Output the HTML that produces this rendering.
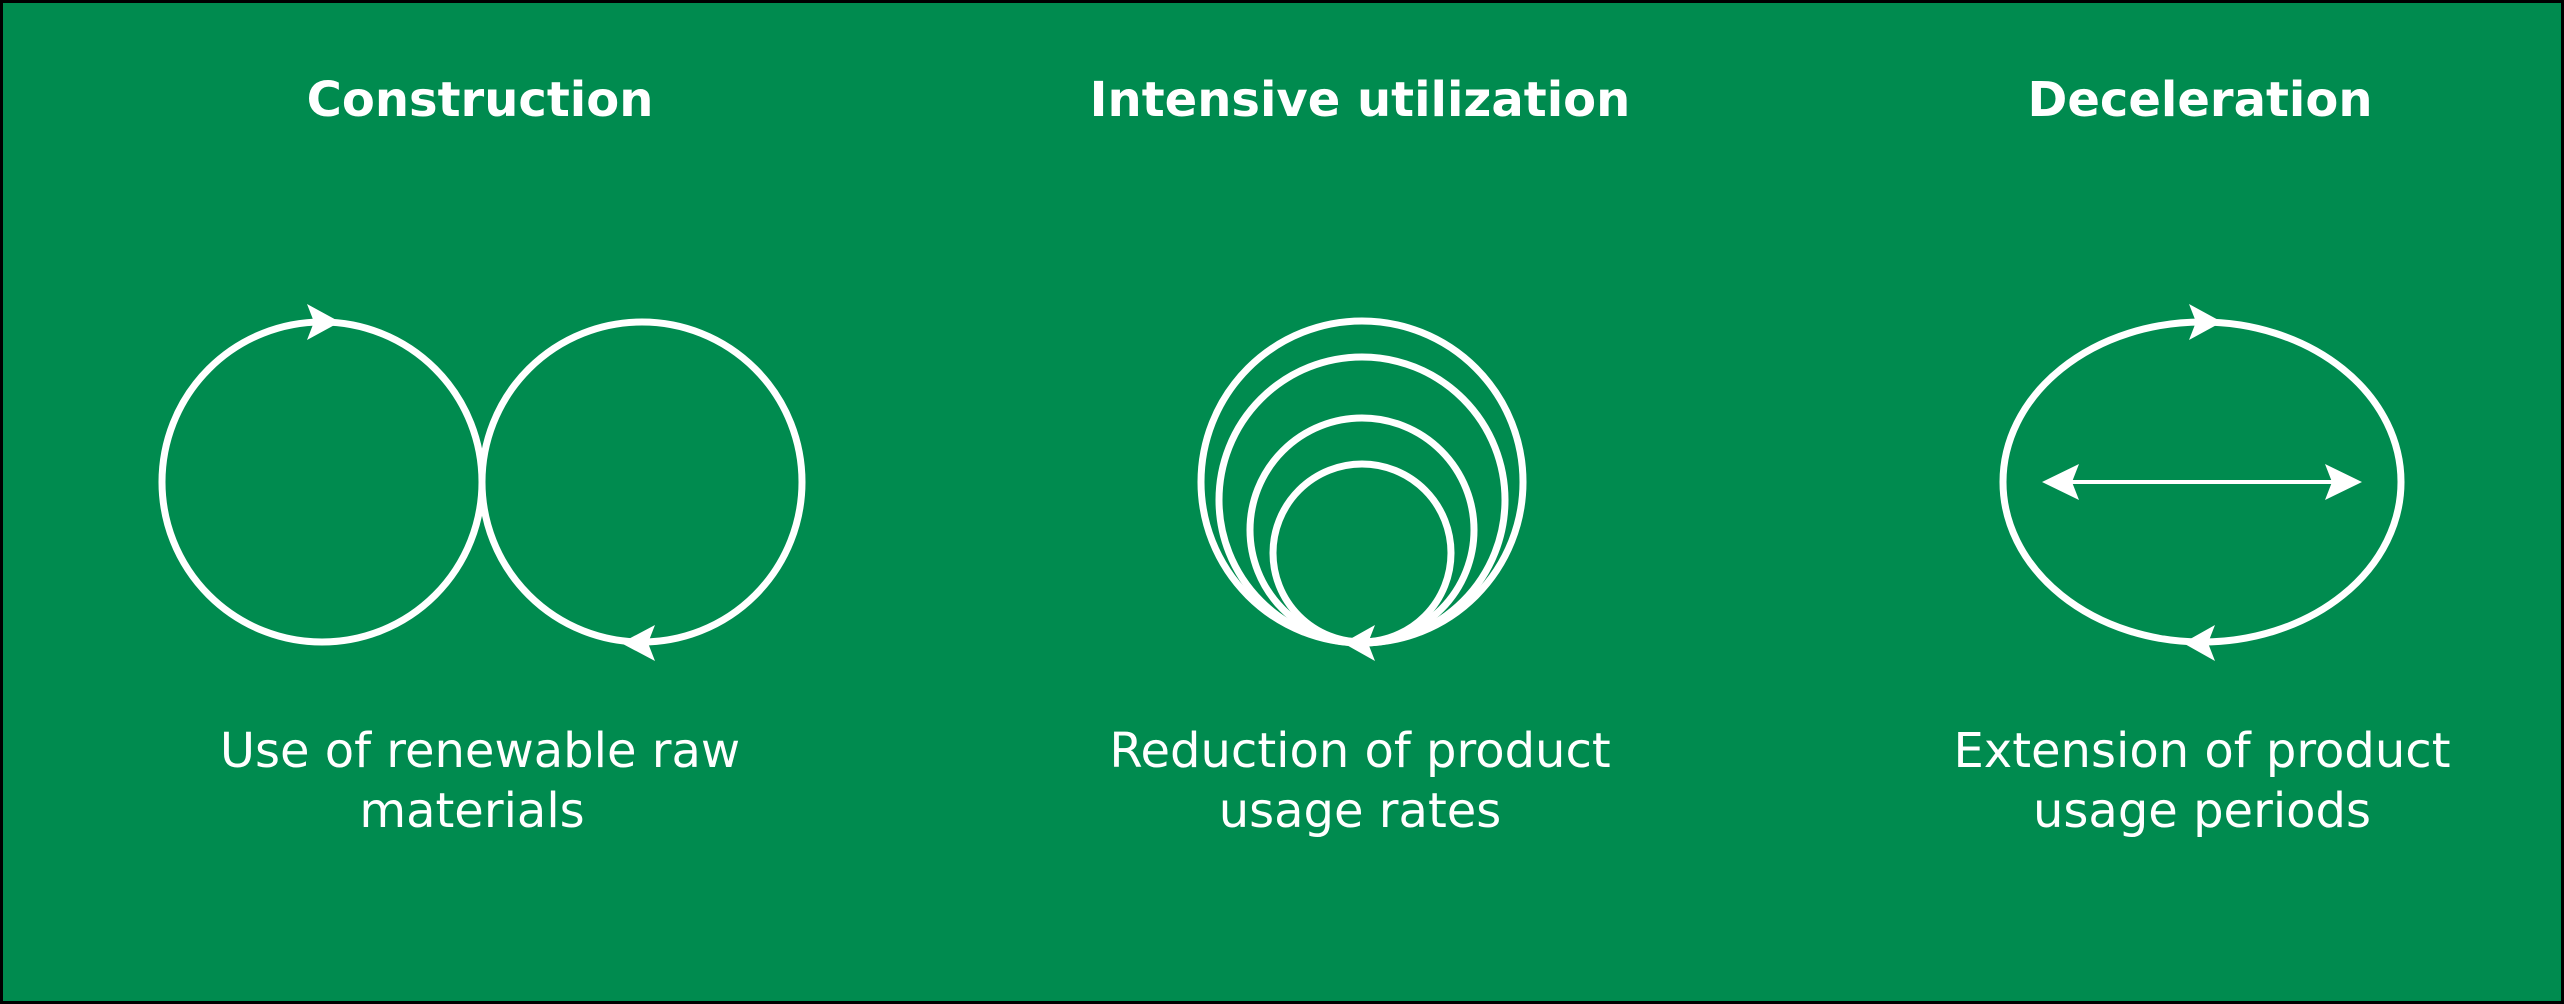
<!DOCTYPE html>
<html><head><meta charset="utf-8"><style>
html,body{margin:0;padding:0;width:2564px;height:1004px;overflow:hidden;background:#008B4F}
svg{display:block}
text{font-family:"DejaVu Sans","Liberation Sans",sans-serif;fill:#fff}
</style></head><body>
<svg width="2564" height="1004" viewBox="0 0 2564 1004">
<rect x="1.5" y="1.5" width="2561" height="1001" fill="#008B4F" stroke="#000" stroke-width="3"/>
<g text-anchor="middle">
<text x="480" y="116" font-size="48" font-weight="bold">Construction</text>
<text x="1360" y="116" font-size="48" font-weight="bold">Intensive utilization</text>
<text x="2200" y="116" font-size="48" font-weight="bold">Deceleration</text>
<text x="480" y="767" font-size="48">Use of renewable raw</text>
<text x="472" y="827" font-size="48">materials</text>
<text x="1360" y="767" font-size="48">Reduction of product</text>
<text x="1360" y="827" font-size="48">usage rates</text>
<text x="2202" y="767" font-size="48">Extension of product</text>
<text x="2202" y="827" font-size="48">usage periods</text>
</g>
<g fill="none" stroke="#fff" stroke-width="7">
<circle cx="322" cy="482" r="160"/>
<circle cx="642" cy="482" r="160"/>
<circle cx="1362" cy="482" r="161"/>
<circle cx="1362" cy="500" r="143"/>
<circle cx="1362" cy="530" r="112"/>
<circle cx="1362" cy="553" r="89"/>
<ellipse cx="2202" cy="482" rx="199" ry="160"/>
</g>
<line x1="2070" y1="482" x2="2334" y2="482" stroke="#fff" stroke-width="4"/>
<g fill="#fff">
<polygon points="340,322 307,304 314,322 307,340"/>
<polygon points="621,643 655,625 648,643 655,661"/>
<polygon points="1343,643 1375,625 1368,643 1375,661"/>
<polygon points="2222,322 2189,304 2196,322 2189,340"/>
<polygon points="2183,643 2215,625 2208,643 2215,661"/>
<polygon points="2042,482 2079,464 2072,482 2079,500"/>
<polygon points="2362,482 2325,464 2332,482 2325,500"/>
</g>
</svg>
</body></html>
